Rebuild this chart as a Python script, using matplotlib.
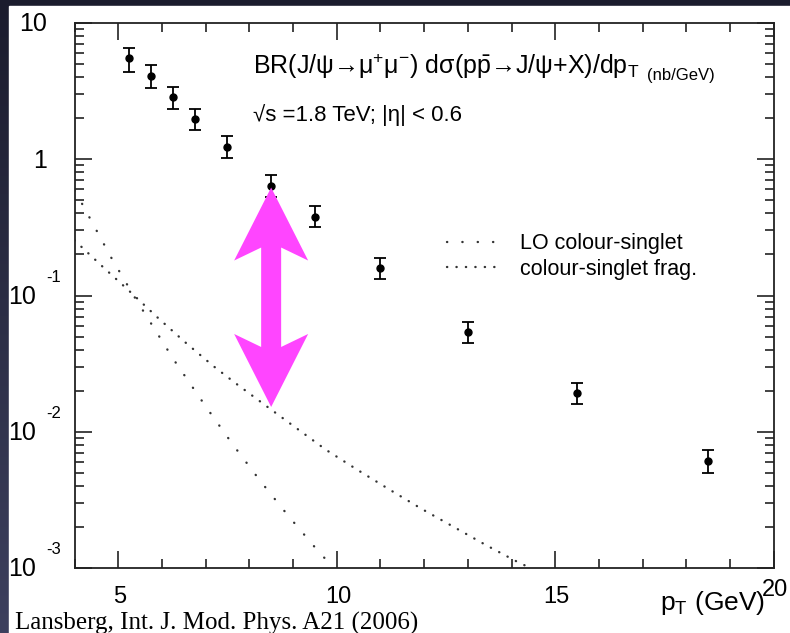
import numpy as np
import matplotlib
matplotlib.use("Agg")
import matplotlib.pyplot as plt
from matplotlib.patches import Polygon, Rectangle
from matplotlib.transforms import IdentityTransform

plt.rcParams['font.family'] = ['Liberation Sans', 'DejaVu Sans']
plt.rcParams['mathtext.fontset'] = 'custom'
plt.rcParams['mathtext.rm'] = 'Liberation Sans'
plt.rcParams['mathtext.it'] = 'Liberation Sans:italic'
plt.rcParams['mathtext.sf'] = 'Liberation Sans'

# CDF data points, J/psi cross section (nb/GeV)
pt = [5.25, 5.75, 6.25, 6.75, 7.5, 8.5, 9.5, 11.0, 13.0, 15.5, 18.5]
xsec = [5.5, 4.1, 2.85, 1.97, 1.24, 0.64, 0.38, 0.159, 0.054, 0.0192, 0.0061]
err_up = [1.0, 0.8, 0.55, 0.38, 0.24, 0.12, 0.07, 0.03, 0.010, 0.0036, 0.0013]
err_dn = [1.1, 0.75, 0.5, 0.33, 0.21, 0.11, 0.06, 0.026, 0.009, 0.0031, 0.0011]

# LO colour-singlet curve
lo_pt = [4.0, 4.18, 4.835, 5.36, 5.895, 6.26, 7.03, 7.63, 8.245, 8.89, 9.55, 9.87, 10.0]
lo_val = [0.59, 0.467, 0.191, 0.099, 0.0527, 0.0342, 0.0149, 0.0080, 0.00438,
          0.00242, 0.00136, 0.00105, 0.00093]

# colour-singlet fragmentation curve
frag_pt = [4.0, 4.645, 5.27, 5.895, 6.535, 7.185, 7.69, 8.38, 9.07, 9.76, 10.48,
           11.21, 11.94, 12.68, 13.42, 14.18, 14.38, 14.5]
frag_val = [0.254, 0.1626, 0.1067, 0.0692, 0.0453, 0.0302, 0.02265, 0.01552, 0.01067,
            0.00735, 0.00524, 0.00376, 0.00272, 0.0020, 0.00147, 0.00109, 0.00102, 0.00097]

# the magenta arrow spans from the 8.5 GeV data point down to the frag curve
arrow_pt = 8.5
arrow_top = 0.62
arrow_bottom = 0.0152

W, H = 790, 633
fig = plt.figure(figsize=(7.9, 6.33), dpi=100)

# dark slide background with a soft gradient
bg = fig.add_axes([0, 0, 1, 1], zorder=-10)
grad = np.linspace(0, 1, 256).reshape(-1, 1)
cmap = matplotlib.colors.LinearSegmentedColormap.from_list("bg", ["#1b1c2d", "#3d405e"])
bg.imshow(grad, aspect='auto', cmap=cmap, extent=[0, 1, 0, 1], origin='upper')
bg.add_patch(Rectangle((9 / W, 0), 1 - 9 / W, (H - 6) / H, color='white'))
bg.set_xlim(0, 1)
bg.set_ylim(0, 1)
bg.axis('off')

ax = fig.add_axes([74.5 / W, 65 / H, 699.2 / W, 545 / H])
ax.set_yscale('log')
ax.set_xlim(4, 20)
ax.set_ylim(1e-3, 10)

ax.errorbar(pt, xsec, yerr=[err_dn, err_up], fmt='o', color='black', ms=5,
            elinewidth=1.3, capsize=4, capthick=1.3, zorder=5)

ax.plot(lo_pt, lo_val, color='#333333', lw=1.7, linestyle=(0, (0.1, 6.4)),
        dash_capstyle='round', label='LO colour-singlet')
ax.plot(frag_pt, frag_val, color='#333333', lw=1.7, linestyle=(0, (0.1, 3.9)),
        dash_capstyle='round', label='colour-singlet frag.')

leg = ax.legend(loc='upper left', bbox_to_anchor=(0.533, 0.614), frameon=False,
                fontsize=15.5, handlelength=2.3, handletextpad=1.1, borderpad=0,
                borderaxespad=0, labelspacing=0.2)

# ticks
ax.set_xticks([5, 10, 15, 20])
ax.set_xticks(np.arange(4, 21, 1), minor=True)
ax.tick_params(which='both', direction='in', top=True, right=True,
               labelbottom=False, labelleft=False, width=1.2, color='#222222')
ax.tick_params(which='major', length=12)
ax.tick_params(which='minor', length=6.5)
for s in ax.spines.values():
    s.set_linewidth(1.3)
    s.set_color('#222222')

# y tick labels, drawn by hand like the original
ax.annotate('10', xy=(0, 10), xycoords=('axes fraction', 'data'), xytext=(-20, -1),
            textcoords='offset points', ha='right', va='center', fontsize=18)
ax.annotate('1', xy=(0, 1), xycoords=('axes fraction', 'data'), xytext=(-20, -1),
            textcoords='offset points', ha='right', va='center', fontsize=18)
for dec, sup in [(0.1, '-1'), (0.01, '-2'), (0.001, '-3')]:
    ax.annotate('10', xy=(0, dec), xycoords=('axes fraction', 'data'), xytext=(-28, -1),
                textcoords='offset points', ha='right', va='center', fontsize=18)
    ax.annotate(sup, xy=(0, dec), xycoords=('axes fraction', 'data'), xytext=(-20, 13),
                textcoords='offset points', ha='left', va='center', fontsize=12)

# x tick labels
for v in [5, 10, 15]:
    ax.annotate(str(v), xy=(v, 0), xycoords=('data', 'axes fraction'), xytext=(1, -21),
                textcoords='offset points', ha='center', va='center', fontsize=17)
ax.annotate('20', xy=(20, 0), xycoords=('data', 'axes fraction'), xytext=(1, -16),
            textcoords='offset points', ha='center', va='center', fontsize=17)
ax.annotate(r'p$_{\mathrm{T}}$ (GeV)', xy=(1, 0), xycoords='axes fraction', xytext=(-6, -25),
            textcoords='offset points', ha='right', va='center', fontsize=19)

# titles inside the frame
title = ax.text(0.256, 0.906,
                r'BR(J/ψ→μ$^{+}$μ$^{-}$) dσ(p$\bar{\mathrm{p}}$→J/ψ+X)/dp$_{\mathrm{T}}$',
                transform=ax.transAxes, fontsize=18, ha='left', va='baseline')
ax.annotate('(nb/GeV)', xy=(1, 0), xycoords=title, xytext=(5, -1),
            textcoords='offset points', fontsize=12, ha='left', va='bottom')
ax.text(0.256, 0.82, '√s =1.8 TeV; |η| < 0.6', transform=ax.transAxes,
        fontsize=16, ha='left', va='baseline')

fig.text(15 / W, 1 - 623 / H, 'Lansberg, Int. J. Mod. Phys. A21 (2006)',
         family=['Liberation Serif', 'DejaVu Serif'], fontsize=18, ha='left', va='center')

# double-headed magenta arrow, sized in pixels
xt, yt = ax.transData.transform((arrow_pt, arrow_top))
xb, yb = ax.transData.transform((arrow_pt, arrow_bottom))
hc, hj, hw, sw = 73, 60, 37, 10
pts = [(xt, yt), (xt + hw, yt - hc), (xt + sw, yt - hj), (xb + sw, yb + hj),
       (xb + hw, yb + hc), (xb, yb), (xb - hw, yb + hc), (xb - sw, yb + hj),
       (xt - sw, yt - hj), (xt - hw, yt - hc)]
arrow = Polygon(pts, closed=True, facecolor='#ff45ff', edgecolor='none',
                transform=IdentityTransform(), clip_on=False, zorder=6)
ax.add_patch(arrow)

fig.savefig('out.png', dpi=100)
